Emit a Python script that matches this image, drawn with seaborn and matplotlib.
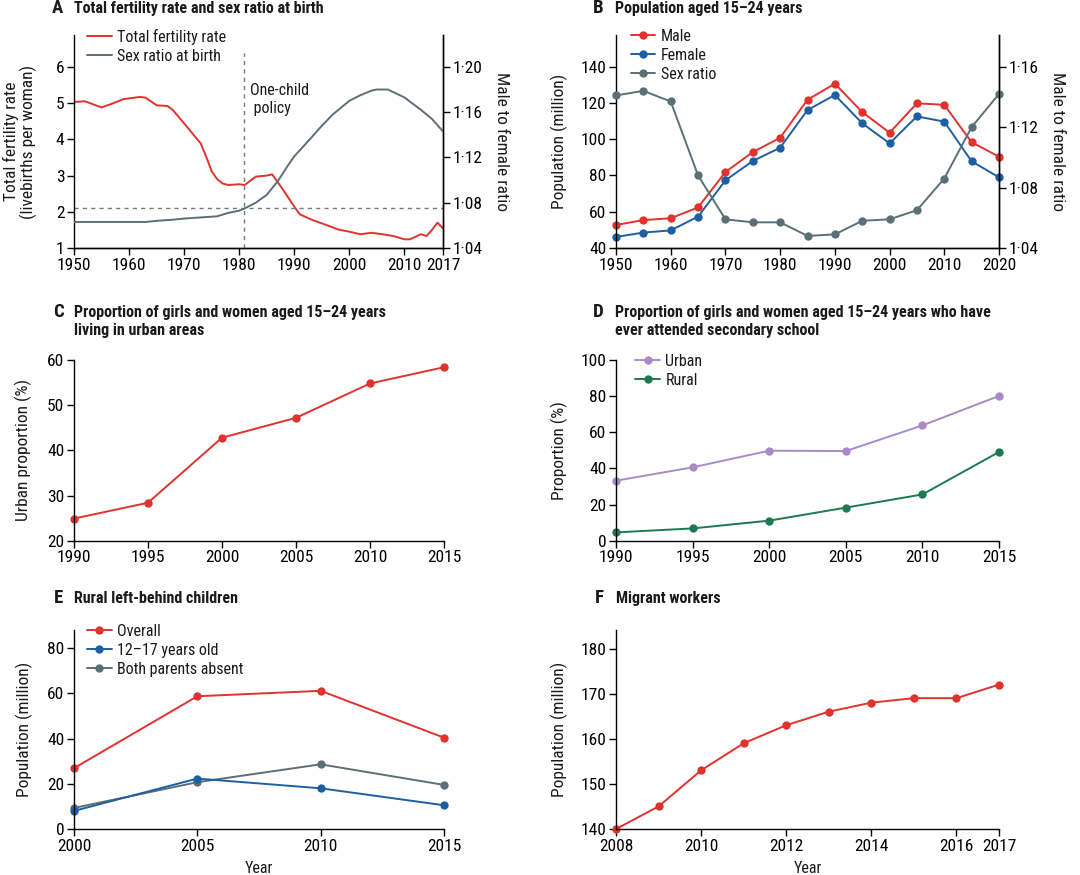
import matplotlib
matplotlib.use("Agg")
import matplotlib.pyplot as plt
import seaborn as sns
from matplotlib import font_manager as fm
from matplotlib.ticker import FuncFormatter
from matplotlib.lines import Line2D

# ---------------- data ----------------
# A: total fertility rate and sex ratio at birth
tfr_years = [1950, 1952, 1955, 1957, 1959, 1962, 1963, 1965, 1967, 1968, 1970, 1972, 1973,
             1974, 1975, 1976, 1977, 1978, 1980, 1981, 1983, 1985, 1986, 1988, 1990, 1991,
             1993, 1995, 1998, 2000, 2002, 2004, 2006, 2008, 2010, 2011, 2013, 2014, 2015,
             2016, 2017]
tfr_values = [5.03, 5.05, 4.88, 4.99, 5.11, 5.17, 5.15, 4.94, 4.92, 4.80, 4.44, 4.07, 3.89,
              3.52, 3.12, 2.90, 2.78, 2.74, 2.76, 2.74, 2.97, 3.00, 3.03, 2.60, 2.14, 1.93,
              1.79, 1.68, 1.51, 1.45, 1.38, 1.42, 1.38, 1.33, 1.24, 1.24, 1.38, 1.33, 1.50,
              1.70, 1.54]
srb_years = [1950, 1963, 1965, 1968, 1970, 1973, 1976, 1978, 1980, 1981, 1983, 1985, 1987,
             1989, 1990, 1993, 1995, 1997, 2000, 2002, 2004, 2005, 2007, 2010, 2013, 2015, 2017]
srb_values = [1.063, 1.063, 1.064, 1.065, 1.066, 1.067, 1.068, 1.071, 1.073, 1.075, 1.080,
              1.087, 1.099, 1.114, 1.121, 1.137, 1.148, 1.158, 1.170, 1.175, 1.179, 1.180,
              1.180, 1.173, 1.162, 1.154, 1.143]
policy_year = 1980.8
replacement_tfr = 2.1

# B: population aged 15-24 years
pop_years = [1950, 1955, 1960, 1965, 1970, 1975, 1980, 1985, 1990, 1995, 2000, 2005, 2010, 2015, 2020]
pop_male = [52.7, 55.4, 56.4, 62.4, 81.9, 92.9, 100.8, 121.8, 130.6, 115.0, 103.6, 119.8, 119.0, 98.3, 90.4]
pop_female = [46.1, 48.5, 49.7, 57.3, 77.3, 88.0, 95.3, 116.1, 124.4, 108.8, 97.7, 112.6, 109.7, 87.8, 79.0]
pop_ratio = [1.141, 1.144, 1.137, 1.088, 1.059, 1.057, 1.057, 1.048, 1.049, 1.058, 1.059, 1.065, 1.086, 1.120, 1.142]

# C: urban proportion
urb_years = [1990, 1995, 2000, 2005, 2010, 2015]
urb_values = [24.9, 28.4, 42.8, 47.2, 54.8, 58.4]

# D: secondary school attendance
sec_years = [1990, 1995, 2000, 2005, 2010, 2015]
sec_urban = [33.2, 40.6, 49.8, 49.6, 63.8, 80.1]
sec_rural = [4.6, 6.8, 11.1, 18.3, 25.6, 49.1]

# E: rural left-behind children
lb_years = [2000, 2005, 2010, 2015]
lb_overall = [26.9, 58.7, 61.1, 40.4]
lb_teen = [8.0, 22.3, 18.0, 10.5]
lb_both_absent = [9.3, 20.7, 28.6, 19.5]

# F: migrant workers
mw_years = [2008, 2009, 2010, 2011, 2012, 2013, 2014, 2015, 2016, 2017]
mw_values = [140, 145, 153, 159, 163, 166, 168, 169, 169, 172]

# ---------------- style ----------------
RED = "#e0332d"
BLUE = "#1d5fa3"
GREY = "#5b6f78"
PURPLE = "#a88bc6"
GREEN = "#1b7a50"
DASH = "#6d7c83"

sns.set_theme(style="ticks")
names = {f.name for f in fm.fontManager.ttflist}
if "Roboto Condensed" in names:
    FONT = ["Roboto Condensed", "DejaVu Sans"]
    FS = 12.5
elif "Liberation Sans Narrow" in names:
    FONT = ["Liberation Sans Narrow", "DejaVu Sans"]
    FS = 12.5
else:
    FONT = ["Roboto", "DejaVu Sans"]
    FS = 11.5
LFS = FS - 1.0   # legend / annotation text
TFS = FS - 1.0   # panel titles
plt.rcParams["font.family"] = FONT
plt.rcParams.update({
    "axes.edgecolor": "black",
    "axes.linewidth": 1.0,
    "xtick.color": "black",
    "ytick.color": "black",
    "text.color": "#1a1a1a",
    "axes.labelcolor": "#1a1a1a",
})

W, H = 1080, 875
fig = plt.figure(figsize=(W / 100, H / 100), dpi=100)


def px_axes(l, t, r, b):
    return fig.add_axes([l / W, 1 - b / H, (r - l) / W, (b - t) / H])


def style_ax(ax, right=False):
    ax.spines["top"].set_visible(False)
    if not right:
        ax.spines["right"].set_visible(False)
    ax.tick_params(direction="out", length=5, width=1, labelsize=FS, pad=2)
    ax.grid(False)
    ax.set_facecolor("white")


def dot_fmt(v, pos):
    return f"{v:.2f}".replace(".", "·")


def title(xl, xt, yb, letter, lines):
    fig.text(xl / W, 1 - yb / H, letter, fontsize=TFS + 2, fontweight="bold", va="baseline", ha="left")
    for i, ln in enumerate(lines):
        fig.text(xt / W, 1 - (yb + i * 18.3) / H, ln, fontsize=TFS, fontweight="bold",
                 va="baseline", ha="left")


def legend(ax, handles, labels, x, y):
    ax.legend(handles, labels, loc="upper left", bbox_to_anchor=(x, y), frameon=False,
              borderpad=0, borderaxespad=0, handlelength=1.55, handletextpad=0.35,
              labelspacing=0.25, fontsize=LFS)


mk = dict(marker="o", markersize=6, markeredgewidth=0, clip_on=False)

# ---------------- panel A ----------------
axA = px_axes(74, 35, 443, 248)
style_ax(axA, right=True)
axA2 = axA.twinx()
style_ax(axA2, right=True)
axA2.spines["left"].set_visible(False)
sns.lineplot(x=tfr_years, y=tfr_values, ax=axA, color=RED, lw=1.4, label="Total fertility rate", legend=False)
sns.lineplot(x=srb_years, y=srb_values, ax=axA2, color=GREY, lw=1.4, label="Sex ratio at birth", legend=False)
axA.axhline(replacement_tfr, color=DASH, lw=1, ls=(0, (3, 3)))
axA.vlines(policy_year, 1, 6.37, color=DASH, lw=1, ls=(0, (3, 3)))
axA.text(policy_year + 1.2, 5.55, "One-child\n policy", fontsize=LFS, va="top", ha="left", linespacing=1.2)
axA.set_xlim(1950, 2017)
axA.set_ylim(1, 6.88)
axA2.set_ylim(1.04, 1.04 + 0.032 * 5.88)
axA.set_xticks([1950, 1960, 1970, 1980, 1990, 2000, 2010, 2017])
axA.set_yticks([1, 2, 3, 4, 5, 6])
axA2.set_yticks([1.04, 1.08, 1.12, 1.16, 1.20])
axA2.yaxis.set_major_formatter(FuncFormatter(dot_fmt))
axA.set_ylabel("Total fertility rate\n(livebirths per woman)", fontsize=FS, linespacing=1.05)
axA.yaxis.set_label_coords(-0.1, 0.5)
axA2.set_ylabel("Male to female ratio", fontsize=FS, rotation=270, va="bottom")
axA2.yaxis.set_label_coords(1.138, 0.5)
hA = [Line2D([], [], color=RED, lw=1.4), Line2D([], [], color=GREY, lw=1.4)]
legend(axA2, hA, ["Total fertility rate", "Sex ratio at birth"], 0.035, 1.03)
title(52, 74, 13.3, "A", ["Total fertility rate and sex ratio at birth"])

# ---------------- panel B ----------------
axB = px_axes(616, 35, 999, 248)
style_ax(axB, right=True)
axB2 = axB.twinx()
style_ax(axB2, right=True)
axB2.spines["left"].set_visible(False)
sns.lineplot(x=pop_years, y=pop_male, ax=axB, color=RED, lw=1.4, **mk)
sns.lineplot(x=pop_years, y=pop_female, ax=axB, color=BLUE, lw=1.4, **mk)
sns.lineplot(x=pop_years, y=pop_ratio, ax=axB2, color=GREY, lw=1.4, **mk)
axB.set_xlim(1950, 2020)
axB.set_ylim(40, 157.5)
axB2.set_ylim(1.04, 1.04 + 117.5 * 0.0012)
axB.set_xticks(list(range(1950, 2021, 10)))
axB.set_yticks(list(range(40, 141, 20)))
axB2.set_yticks([1.04, 1.08, 1.12, 1.16])
axB2.yaxis.set_major_formatter(FuncFormatter(dot_fmt))
axB.set_ylabel("Population (million)", fontsize=FS)
axB.yaxis.set_label_coords(-0.125, 0.5)
axB2.set_ylabel("Male to female ratio", fontsize=FS, rotation=270, va="bottom")
axB2.yaxis.set_label_coords(1.133, 0.5)
hB = [Line2D([], [], color=c, lw=1.4, marker="o", markersize=6, markeredgewidth=0) for c in (RED, BLUE, GREY)]
legend(axB2, hB, ["Male", "Female", "Sex ratio"], 0.038, 1.03)
title(593, 615, 13.3, "B", ["Population aged 15–24 years"])

# ---------------- panel C ----------------
axC = px_axes(74, 360, 444, 540.7)
style_ax(axC)
sns.lineplot(x=urb_years, y=urb_values, ax=axC, color=RED, lw=1.4, **mk)
axC.set_xlim(1990, 2015)
axC.set_ylim(20, 60)
axC.set_xticks(urb_years)
axC.set_yticks([20, 30, 40, 50, 60])
axC.set_ylabel("Urban proportion (%)", fontsize=FS)
axC.yaxis.set_label_coords(-0.114, 0.5)
title(53, 74, 316.7, "C", ["Proportion of girls and women aged 15–24 years", "living in urban areas"])

# ---------------- panel D ----------------
axD = px_axes(616, 360, 999, 540.7)
style_ax(axD)
sns.lineplot(x=sec_years, y=sec_urban, ax=axD, color=PURPLE, lw=1.4, **mk)
sns.lineplot(x=sec_years, y=sec_rural, ax=axD, color=GREEN, lw=1.4, **mk)
axD.set_xlim(1990, 2015)
axD.set_ylim(0, 100)
axD.set_xticks(sec_years)
axD.set_yticks([0, 20, 40, 60, 80, 100])
axD.set_ylabel("Proportion (%)", fontsize=FS)
axD.yaxis.set_label_coords(-0.125, 0.5)
hD = [Line2D([], [], color=c, lw=1.4, marker="o", markersize=6, markeredgewidth=0) for c in (PURPLE, GREEN)]
legend(axD, hD, ["Urban", "Rural"], 0.05, 1.035)
title(593, 615, 316.7, "D", ["Proportion of girls and women aged 15–24 years who have",
                             "ever attended secondary school"])

# ---------------- panel E ----------------
axE = px_axes(74, 630, 444, 829)
style_ax(axE)
sns.lineplot(x=lb_years, y=lb_overall, ax=axE, color=RED, lw=1.4, **mk)
sns.lineplot(x=lb_years, y=lb_both_absent, ax=axE, color=GREY, lw=1.4, **mk)
sns.lineplot(x=lb_years, y=lb_teen, ax=axE, color=BLUE, lw=1.4, **mk)
axE.set_xlim(2000, 2015)
axE.set_ylim(0, 88)
axE.set_xticks(lb_years)
axE.set_yticks([0, 20, 40, 60, 80])
axE.set_ylabel("Population (million)", fontsize=FS)
axE.yaxis.set_label_coords(-0.112, 0.5)
axE.set_xlabel("Year", fontsize=LFS, va="top")
axE.xaxis.set_label_coords(0.5, -0.16)
hE = [Line2D([], [], color=c, lw=1.4, marker="o", markersize=6, markeredgewidth=0) for c in (RED, BLUE, GREY)]
legend(axE, hE, ["Overall", "12–17 years old", "Both parents absent"], 0.035, 1.03)
title(54, 74, 603, "E", ["Rural left-behind children"])

# ---------------- panel F ----------------
axF = px_axes(616, 630, 999, 829)
style_ax(axF)
sns.lineplot(x=mw_years, y=mw_values, ax=axF, color=RED, lw=1.4, **mk)
axF.set_xlim(2008, 2017)
axF.set_ylim(140, 184.1)
axF.set_xticks([2008, 2010, 2012, 2014, 2016, 2017])
axF.set_yticks([140, 150, 160, 170, 180])
axF.set_ylabel("Population (million)", fontsize=FS)
axF.yaxis.set_label_coords(-0.125, 0.5)
axF.set_xlabel("Year", fontsize=LFS, va="top")
axF.xaxis.set_label_coords(0.5, -0.16)
title(595, 616, 603, "F", ["Migrant workers"])

fig.savefig("out.png", dpi=100, facecolor="white")
